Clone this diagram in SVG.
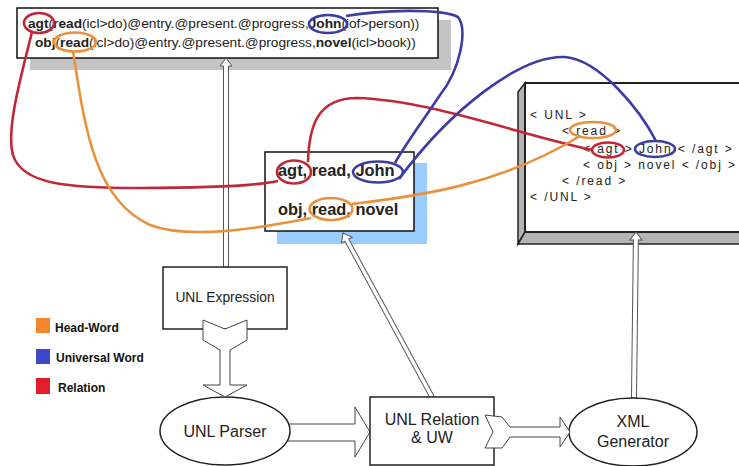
<svg xmlns="http://www.w3.org/2000/svg" width="739" height="466" viewBox="0 0 739 466">
<style>
.box{fill:#fff;stroke:#111;stroke-width:1.5}
.node{fill:#fff;stroke:#222;stroke-width:1.5}
.t{font-family:"Liberation Sans",Arial,sans-serif;fill:#222}
.mono{font-family:"Liberation Sans",Arial,sans-serif;fill:#222;font-size:12px;letter-spacing:1.9px}
.b{font-weight:bold}
.hollow{fill:#fff;stroke:#444;stroke-width:1}
.dbl{fill:#fff;stroke:#555;stroke-width:1}
.red{fill:none;stroke:#C0283A;stroke-width:2.6}
.blue{fill:none;stroke:#3C3CA2;stroke-width:2.6}
.orange{fill:none;stroke:#E8923E;stroke-width:2.6}
.leg{font-family:"Liberation Sans",Arial,sans-serif;font-weight:bold;font-size:12px;fill:#111}
</style>
<rect width="739" height="466" fill="#fff"/>

<g id="unl-text">
<rect x="30" y="20" width="421" height="50" fill="#c4c4c4"/>
<rect class="box" x="17" y="8" width="421" height="50"/>
<text class="t" x="28" y="28" font-size="13.7"><tspan class="b">agt</tspan>(<tspan class="b">read</tspan>(icl&gt;do)@entry.@present.@progress,<tspan class="b">John</tspan>(iof&gt;person))</text>
<text class="t" x="35" y="47" font-size="13.7"><tspan class="b">obj</tspan>(<tspan class="b">read</tspan>(icl&gt;do)@entry.@present.@progress,<tspan class="b">novel</tspan>(icl&gt;book))</text>
</g>

<g id="relation-uw-box">
<rect x="277" y="163" width="150" height="81" fill="#99CCFF"/>
<rect class="box" x="265" y="152" width="149" height="79"/>
<text class="t b" x="278" y="176" font-size="16.4">agt, read, John</text>
<text class="t b" x="278" y="215" font-size="16.4">obj, read, novel</text>
</g>

<g id="xml-output">
<polygon points="518,92 525,83 525,232 518,244" fill="#b4b4b4" stroke="#222" stroke-width="1.5"/>
<polygon points="518,244 525,232 740,232 740,244" fill="#b4b4b4" stroke="#222" stroke-width="1.5"/>
<rect x="525" y="83" width="216" height="149" fill="#fff" stroke="#222" stroke-width="2"/>
<text class="mono" x="530" y="119">&lt; UNL &gt;</text>
<text class="mono" x="562" y="135">&lt; read &gt;</text>
<text class="mono" x="583" y="153">&lt; agt &gt; John &lt; /agt &gt;</text>
<text class="mono" x="583" y="169">&lt; obj &gt; novel &lt; /obj &gt;</text>
<text class="mono" x="562" y="185">&lt; /read &gt;</text>
<text class="mono" x="530" y="201">&lt; /UNL &gt;</text>
</g>

<g id="connectors">
<path class="dbl" d="M226,58 L232,66 L228.5,66 L228.5,267 L223.5,267 L223.5,66 L220,66 Z"/>
<path class="dbl" transform="translate(343,233) rotate(-28.5)" d="M0,0 L6,8 L2.2,8 L2.2,187 L-2.2,187 L-2.2,8 L-6,8 Z"/>
<path class="dbl" transform="translate(636,232) rotate(0.7)" d="M0,0 L6,8 L2.5,8 L2.5,166 L-2.5,166 L-2.5,8 L-6,8 Z"/>
<path class="hollow" d="M285,424 L355,424 L355,407 L370,432 L355,457 L355,441 L285,441 Z"/>
</g>

<g id="unl-expression">
<rect class="node" x="163" y="267" width="124" height="62"/>
<text class="t" x="225" y="302" font-size="13.8" text-anchor="middle">UNL Expression</text>
</g>

<g id="unl-parser">
<ellipse class="node" cx="225" cy="431" rx="65" ry="34"/>
<text class="t" x="225" y="437" font-size="16" text-anchor="middle">UNL Parser</text>
</g>

<g id="unl-relation">
<rect class="node" x="370" y="397" width="124" height="68"/>
<text class="t" x="432" y="425" font-size="16" text-anchor="middle">UNL Relation</text>
<text class="t" x="432" y="443" font-size="16" text-anchor="middle">&amp; UW</text>
</g>

<g id="xml-generator">
<ellipse class="node" cx="633" cy="432" rx="64" ry="34"/>
<text class="t" x="633" y="427" font-size="16" text-anchor="middle">XML</text>
<text class="t" x="633" y="447" font-size="16" text-anchor="middle">Generator</text>
</g>

<g id="connectors-2">
<path class="hollow" d="M203,320 L225,329 L247,320 L247,340 L230,350 L230,385 L247,385 L225,397 L203,385 L220,385 L220,350 L203,340 Z"/>
<path class="hollow" d="M485,415 L502,417 L510,427 L560,427 L560,417 L570,432 L560,447 L560,437 L510,437 L502,448 L485,448 L493,432 Z"/>
</g>

<g id="annotations">
<ellipse class="red" cx="39" cy="23" rx="15" ry="10"/>
<ellipse class="blue" cx="328" cy="24" rx="19" ry="9"/>
<ellipse class="orange" cx="75" cy="42" rx="21" ry="9.5"/>
<ellipse class="red" cx="294" cy="172" rx="17" ry="11.5"/>
<ellipse class="blue" cx="378" cy="172" rx="25" ry="10.5"/>
<ellipse class="orange" cx="331" cy="209" rx="21.5" ry="11"/>
<ellipse class="orange" cx="593" cy="130" rx="23" ry="8"/>
<ellipse class="red" cx="608" cy="150" rx="16" ry="7.5"/>
<ellipse class="blue" cx="655" cy="149" rx="20" ry="8"/>
<path class="red" d="M32,32 C20,80 6,130 13,155 C22,185 70,188 140,188 C200,188 250,187 278,181"/>
<path class="red" d="M308,162 C309,125 318,98 357,98 C430,100 520,135 593,150"/>
<path class="blue" d="M346,16 C380,10 440,8 458,17 C468,30 460,70 440,95 C420,125 405,145 395,163"/>
<path class="blue" d="M399,179 C450,110 520,55 565,57 C600,60 640,110 656,141"/>
<path class="orange" d="M73,51 C85,130 95,200 150,225 C190,240 260,228 311,218"/>
<path class="orange" d="M352,204 C420,196 500,185 580,136"/>
</g>

<g id="legend">
<rect x="36" y="318" width="14" height="15" fill="#F4862E"/>
<rect x="36" y="349" width="14" height="15" fill="#3E47C5"/>
<rect x="36" y="378" width="14" height="16" fill="#E01E2C"/>
<text class="leg" x="55" y="332">Head-Word</text>
<text class="leg" x="56" y="362">Universal Word</text>
<text class="leg" x="58" y="392">Relation</text>
</g>
</svg>
